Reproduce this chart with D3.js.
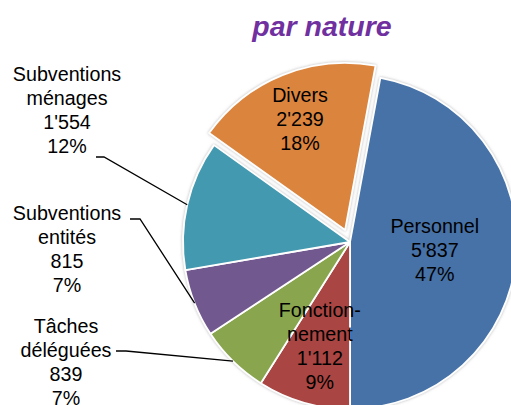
<!DOCTYPE html>
<html>
<head>
<meta charset="utf-8">
<script src="https://cdn.jsdelivr.net/npm/d3@7"></script>
<style>
  html, body { margin: 0; padding: 0; background: #fff; }
  svg { display: block; }
  text { font-family: "Liberation Sans", Arial, sans-serif; fill: #000; }
</style>
</head>
<body>
<svg id="chart" width="511" height="405"></svg>
<script>
// Data
const categories = ['Personnel', 'Fonctionnement', 'Tâches déléguées', 'Subventions entités', 'Subventions ménages', 'Divers'];
const values = [5837, 1112, 839, 815, 1554, 2239];
const percents = ['47%', '9%', '7%', '7%', '12%', '18%'];
const valueLabels = ["5'837", "1'112", "839", "815", "1'554", "2'239"];
const colors = ['#4672a8', '#a94542', '#89a54e', '#71588f', '#4399b0', '#db843d'];

(function() {
  let svg = d3.select('#chart');
  let cx = 350, cy = 242, radius = 167;
  let explodeDist = 13;
  let lineHeight = 24;

  // Personnel ends straight down, so start the pie accordingly
  let total = d3.sum(values);
  let start = Math.PI - 2 * Math.PI * values[0] / total;

  let rows = categories.map((c, i) => ({
    name: c, value: values[i], pct: percents[i], label: valueLabels[i], color: colors[i], idx: i
  }));

  let pie = d3.pie().value((d) => d.value).sort(null)
    .startAngle(start).endAngle(start + 2 * Math.PI);
  let arcs = pie(rows);

  let arc = d3.arc().innerRadius(0).outerRadius(radius);

  // label layout: inside ones use a fraction of the radius
  let inside = {
    'Personnel': { k: 0.51, lines: ['Personnel'] },
    'Fonctionnement': { k: 0.65, lines: ['Fonction-', 'nement'] },
    'Divers': { k: 0.72, lines: ['Divers'] }
  };
  let outside = {
    'Subventions ménages': { x: 67, y: 81, lines: ['Subventions', 'ménages'], from: [[96, 157], [104, 157]] },
    'Subventions entités': { x: 67, y: 220, lines: ['Subventions', 'entités'], from: [[130, 219], [140, 219]] },
    'Tâches déléguées': { x: 66, y: 357, lines: ['Tâches', 'déléguées'], from: [[116, 351], [126, 351]], firstOffset: -1 }
  };

  let defs = svg.append('defs');
  let shadow = defs.append('filter').attr('id', 'shadow')
    .attr('x', '-20%').attr('y', '-20%').attr('width', '140%').attr('height', '140%');
  shadow.append('feDropShadow')
    .attr('dx', 0).attr('dy', 0).attr('stdDeviation', 1.6)
    .attr('flood-color', '#777').attr('flood-opacity', 0.55);

  // Title
  svg.append('text')
    .attr('x', 322).attr('y', 36)
    .attr('text-anchor', 'middle')
    .style('font-size', '28.5px')
    .style('font-weight', 'bold')
    .style('font-style', 'italic')
    .style('fill', '#7030a0')
    .text('par nature');

  let offsetOf = (d) => {
    if (d.data.name !== 'Divers') return [0, 0];
    let mid = (d.startAngle + d.endAngle) / 2;
    return [Math.sin(mid) * explodeDist, -Math.cos(mid) * explodeDist];
  };

  let pieGroup = svg.append('g')
    .attr('transform', `translate(${cx},${cy})`)
    .attr('filter', 'url(#shadow)');

  pieGroup.selectAll('.slice')
    .data(arcs)
    .enter()
    .append('path')
      .attr('class', 'slice')
      .attr('d', arc)
      .attr('transform', (d) => `translate(${offsetOf(d)})`)
      .attr('fill', (d) => d.data.color)
      .attr('stroke', '#fff')
      .attr('stroke-width', 1.8)
      .attr('stroke-linejoin', 'round');

  // Inside labels
  let labelGroup = svg.append('g').attr('transform', `translate(${cx},${cy})`);
  arcs.filter((d) => inside[d.data.name]).forEach((d) => {
    let cfg = inside[d.data.name];
    let r = radius * cfg.k;
    let c = d3.arc().innerRadius(r).outerRadius(r).centroid(d);
    let off = offsetOf(d);
    let lines = cfg.lines.concat([d.data.label, d.data.pct]);
    // centre the block vertically around the centroid
    let firstBase = c[1] + off[1] - (lines.length - 1) * lineHeight / 2 + 7;
    let t = labelGroup.append('text')
      .attr('text-anchor', 'middle')
      .style('font-size', '19.7px');
    lines.forEach((ln, i) => {
      t.append('tspan')
        .attr('x', c[0] + off[0])
        .attr('y', firstBase + i * lineHeight)
        .text(ln);
    });
  });

  // Outside labels with leader lines
  arcs.filter((d) => outside[d.data.name]).forEach((d) => {
    let cfg = outside[d.data.name];
    let mid = (d.startAngle + d.endAngle) / 2;
    let end = [cx + Math.sin(mid) * radius, cy - Math.cos(mid) * radius];
    let pts = cfg.from.concat([end]);
    svg.append('path')
      .attr('d', d3.line()(pts))
      .attr('fill', 'none')
      .attr('stroke', '#000')
      .attr('stroke-width', 1.3);

    let lines = cfg.lines.concat([d.data.label, d.data.pct]);
    let firstBase = cfg.y - (cfg.firstOffset === -1 ? lineHeight : 0);
    let t = svg.append('text')
      .attr('text-anchor', 'middle')
      .style('font-size', '19.7px');
    lines.forEach((ln, i) => {
      t.append('tspan')
        .attr('x', cfg.x)
        .attr('y', firstBase + i * lineHeight)
        .text(ln);
    });
  });
})();
</script>
</body>
</html>
